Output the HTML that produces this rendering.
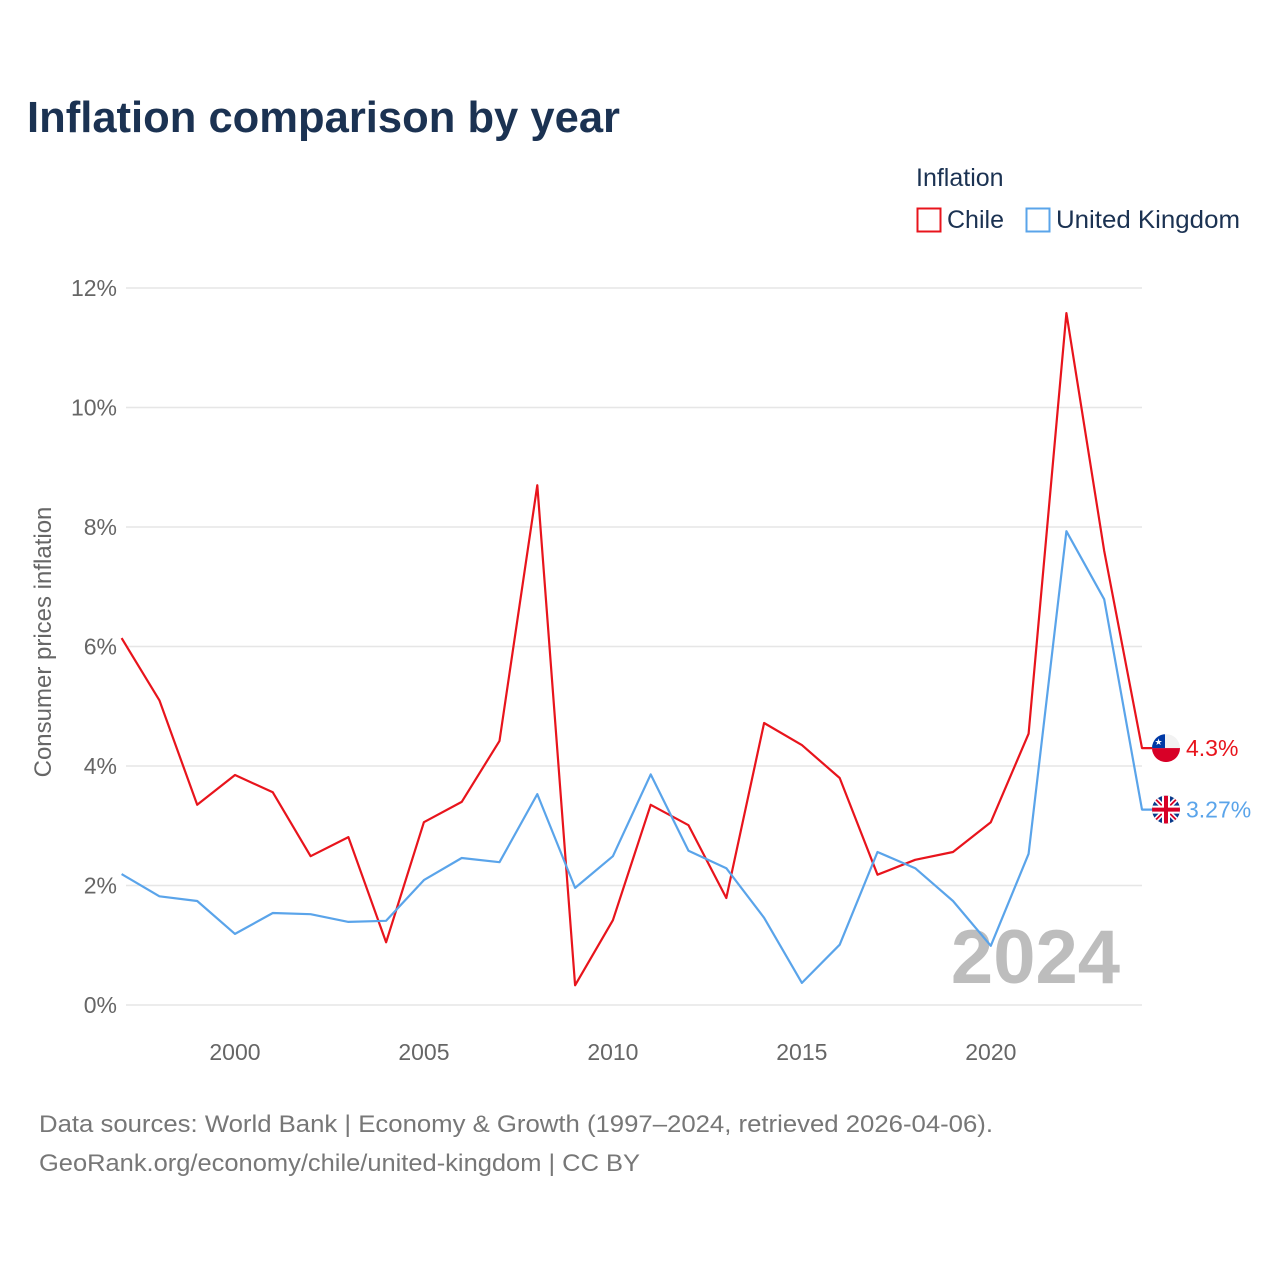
<!DOCTYPE html>
<html><head><meta charset="utf-8"><style>
html,body{margin:0;padding:0;background:#fff;}
body{width:1280px;height:1280px;overflow:hidden;font-family:"Liberation Sans",sans-serif;}
</style></head><body>
<svg id="chart" width="1280" height="1280" xmlns="http://www.w3.org/2000/svg">
<defs>
<clipPath id="clipCl"><circle cx="1166" cy="747" r="14"/></clipPath>
<clipPath id="clipUk"><circle cx="1166" cy="809" r="14"/></clipPath>
</defs>
<text x="27" y="132" font-size="44" font-weight="bold" fill="#1b3252" textLength="593" lengthAdjust="spacingAndGlyphs">Inflation comparison by year</text>
<g>
<text x="916" y="186" font-size="25" fill="#1b3252">Inflation</text>
<g><rect x="917.5" y="208.5" width="23" height="23" fill="none" stroke="#e8141c" stroke-width="2"/><text x="947" y="228" font-size="25" fill="#1b3252">Chile</text></g>
<g><rect x="1026.5" y="208.5" width="23" height="23" fill="none" stroke="#5aa4ea" stroke-width="2"/><text x="1056" y="228" font-size="25" fill="#1b3252" textLength="184" lengthAdjust="spacingAndGlyphs">United Kingdom</text></g>
</g>
<g id="grid"></g>
<g id="yticks"></g>
<g id="xticks"></g>
<text transform="translate(51,642) rotate(-90)" text-anchor="middle" font-size="24" fill="#666">Consumer prices inflation</text>
<text x="1120" y="983" text-anchor="end" font-size="76" font-weight="bold" fill="#bdbdbd">2024</text>
<g id="series"></g>
<text x="39" y="1132" font-size="24" fill="#777" textLength="954" lengthAdjust="spacingAndGlyphs">Data sources: World Bank | Economy &amp; Growth (1997–2024, retrieved 2026-04-06).</text>
<text x="39" y="1171" font-size="24" fill="#777" textLength="601" lengthAdjust="spacingAndGlyphs">GeoRank.org/economy/chile/united-kingdom | CC BY</text>
</svg>
<script>
const years = [1997,1998,1999,2000,2001,2002,2003,2004,2005,2006,2007,2008,2009,2010,2011,2012,2013,2014,2015,2016,2017,2018,2019,2020,2021,2022,2023,2024];
const chileValues = [6.14,5.10,3.35,3.85,3.56,2.49,2.81,1.05,3.06,3.40,4.42,8.70,0.33,1.42,3.35,3.01,1.79,4.72,4.35,3.80,2.18,2.43,2.56,3.06,4.54,11.58,7.60,4.30];
const ukValues = [2.19,1.82,1.74,1.19,1.54,1.52,1.39,1.41,2.09,2.46,2.39,3.53,1.96,2.49,3.86,2.58,2.29,1.46,0.37,1.01,2.56,2.29,1.74,0.99,2.53,7.93,6.79,3.27];
const yTickValues = [0,2,4,6,8,10,12];
const xTickValues = [2000,2005,2010,2015,2020];
const endLabels = ["4.3%","3.27%"];

const NS="http://www.w3.org/2000/svg";
const xS = y => 121.6 + (y-1997)*(1142-121.6)/27;
const yS = v => 1005 - v*(1005-288)/12;
function mk(tag, attrs, parent){const e=document.createElementNS(NS,tag);for(const k in attrs)e.setAttribute(k,attrs[k]);parent.appendChild(e);return e;}
const grid=document.getElementById('grid'),yt=document.getElementById('yticks'),xt=document.getElementById('xticks'),ser=document.getElementById('series');
yTickValues.forEach(v=>{
  const l=mk('line',{x1:126,x2:1142,y1:yS(v),y2:yS(v),stroke:'#e6e6e6','stroke-width':1.5},grid);
  
  
  const t=mk('text',{x:117,y:yS(v)+8,'text-anchor':'end','font-size':23,fill:'#666'},yt);
  t.textContent=v+'%';
  
  
});
xTickValues.forEach(v=>{
  const t=mk('text',{x:xS(v),y:1060,'text-anchor':'middle','font-size':23,fill:'#666'},xt);
  t.textContent=v;
  
  
});
function drawFlag(kind,cy,name){
  const g=mk('g',{'clip-path':kind==='cl'?'url(#clipCl)':'url(#clipUk)'},ser);
  
  
  const cx=1166;
  g.parentNode.removeChild(g);
  const clip=document.getElementById(kind==='cl'?'clipCl':'clipUk').firstElementChild;
  clip.setAttribute('cy',cy);
  ser.appendChild(g);
  if(kind==='cl'){
    mk('rect',{x:cx-14,y:cy-14,width:28,height:14,fill:'#f2f2f2'},g);
    mk('rect',{x:cx-14,y:cy,width:28,height:14,fill:'#d80027'},g);
    mk('rect',{x:cx-14,y:cy-14,width:13,height:14,fill:'#0039a6'},g);
    mk('text',{x:cx-7.5,y:cy-3,'font-size':9,fill:'#fff','text-anchor':'middle'},g).textContent='★';
  } else {
    mk('rect',{x:cx-14,y:cy-14,width:28,height:28,fill:'#0a3a8a'},g);
    mk('path',{d:`M${cx-14},${cy-14}L${cx+14},${cy+14}M${cx+14},${cy-14}L${cx-14},${cy+14}`,stroke:'#fff','stroke-width':5},g);
    mk('path',{d:`M${cx-14},${cy-14}L${cx+14},${cy+14}M${cx+14},${cy-14}L${cx-14},${cy+14}`,stroke:'#d80027','stroke-width':1.8},g);
    mk('path',{d:`M${cx},${cy-14}V${cy+14}M${cx-14},${cy}H${cx+14}`,stroke:'#fff','stroke-width':8},g);
    mk('path',{d:`M${cx},${cy-14}V${cy+14}M${cx-14},${cy}H${cx+14}`,stroke:'#d80027','stroke-width':4},g);
  }
}
function drawLine(vals,color,name,label,kind){
  let d=vals.map((v,i)=>(i?'L':'M')+xS(years[i]).toFixed(1)+','+yS(v).toFixed(1)).join(' ');
  const last=vals[vals.length-1];
  d+=' L1152,'+yS(last).toFixed(1);
  const p=mk('path',{d:d,fill:'none',stroke:color,'stroke-width':2.2,'stroke-linejoin':'round'},ser);
  
  
  drawFlag(kind,yS(last),name);
  const t=mk('text',{x:1186,y:yS(last)+8,'font-size':23,fill:color},ser);
  t.textContent=label;
  
  
}
drawLine(chileValues,'#e8141c','chile',endLabels[0],'cl');
drawLine(ukValues,'#5aa4ea','uk',endLabels[1],'uk');
</script>
</body></html>
